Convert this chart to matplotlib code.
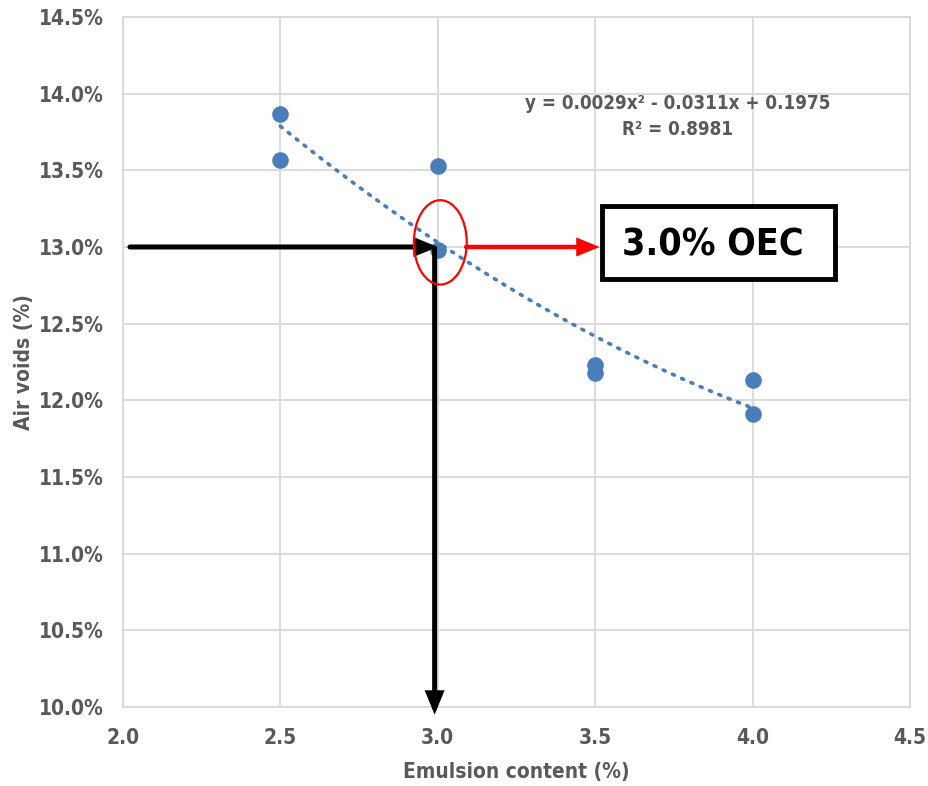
import matplotlib
matplotlib.use("Agg")
import matplotlib.pyplot as plt
from matplotlib.patches import Ellipse, Rectangle
from matplotlib.ticker import FuncFormatter
import numpy as np

plt.rcParams['font.family'] = ['DejaVu Sans']
plt.rcParams['font.stretch'] = 'condensed'

# data
emulsion = [2.5, 2.5, 3.0, 3.0, 3.5, 3.5, 4.0, 4.0]
air_voids = [0.1387, 0.1357, 0.1353, 0.1298, 0.1223, 0.1218, 0.1213, 0.1191]
coef = [0.0029, -0.0311, 0.1975]
oec = 3.0
av_at_oec = 0.130

grey = '#595959'
blue = '#4a7ebb'

fig = plt.figure(figsize=(9.29, 7.86), dpi=100)
ax = fig.add_axes([0.1324, 0.1005, 0.8471, 0.8779])

ax.set_xlim(2.0, 4.5)
ax.set_ylim(0.10, 0.145)
ax.set_xticks(np.arange(2.0, 4.51, 0.5))
ax.set_yticks(np.arange(0.10, 0.1451, 0.005))
ax.grid(True, color='#d9d9d9', linewidth=1.3)
ax.set_axisbelow(True)
for s in ax.spines.values():
    s.set_color('#d9d9d9')
    s.set_linewidth(1.3)
ax.tick_params(length=0, labelsize=15, labelcolor=grey)
ax.tick_params(axis='x', pad=15)
ax.tick_params(axis='y', pad=14)
for lab in ax.get_xticklabels() + ax.get_yticklabels():
    lab.set_fontweight('bold')
ax.xaxis.set_major_formatter(FuncFormatter(lambda v, p: f"{v:.1f}"))
ax.yaxis.set_major_formatter(FuncFormatter(lambda v, p: f"{v*100:.1f}%"))

ax.set_xlabel('Emulsion content (%)', fontsize=15, fontweight='bold', color=grey, labelpad=10)
ax.set_ylabel('Air voids (%)', fontsize=15, fontweight='bold', color=grey, labelpad=3)

# trendline
xt = np.linspace(2.5, 4.0, 200)
ax.plot(xt, np.polyval(coef, xt), color=blue, linestyle=(0, (0.6, 2.2)),
        linewidth=2.6, dash_capstyle='round', zorder=2)
ax.scatter(emulsion, air_voids, s=120, color=blue, zorder=3)

ax.text(3.762, 0.1385, 'y = 0.0029x² - 0.0311x + 0.1975\nR² = 0.8981',
        ha='center', va='center', fontsize=13.5, fontweight='bold', color=grey,
        linespacing=1.5)

# arrows
head = '-|>,head_length=1.1,head_width=0.45'
ax.annotate('', xy=(oec, av_at_oec), xytext=(2.022, av_at_oec), annotation_clip=False,
            arrowprops=dict(arrowstyle=head, color='black', lw=3.6, shrinkA=0, shrinkB=0,
                            joinstyle='miter'), zorder=4)
ax.annotate('', xy=(oec - 0.01, 0.0995), xytext=(oec - 0.01, av_at_oec - 0.0001),
            annotation_clip=False,
            arrowprops=dict(arrowstyle=head, color='black', lw=3.6, shrinkA=0, shrinkB=0,
                            joinstyle='miter'), zorder=4)
ax.annotate('', xy=(3.514, av_at_oec), xytext=(3.09, av_at_oec), annotation_clip=False,
            arrowprops=dict(arrowstyle=head, color='#ff0000', lw=3.2, shrinkA=0, shrinkB=0,
                            joinstyle='miter'), zorder=4)

ax.add_patch(Ellipse((3.008, 0.1303), 0.168, 0.0055, fill=False,
                     edgecolor='#ff0000', linewidth=1.6, zorder=5))

ax.add_patch(Rectangle((0.6086, 0.6203), 0.296, 0.1058, transform=ax.transAxes,
                       facecolor='white', edgecolor='black', linewidth=3.5, zorder=6))
ax.text(0.634, 0.6685, '3.0% OEC', transform=ax.transAxes, ha='left', va='center',
        fontsize=27, fontweight='bold', color='black', zorder=7)

fig.savefig('out.png', dpi=100)
